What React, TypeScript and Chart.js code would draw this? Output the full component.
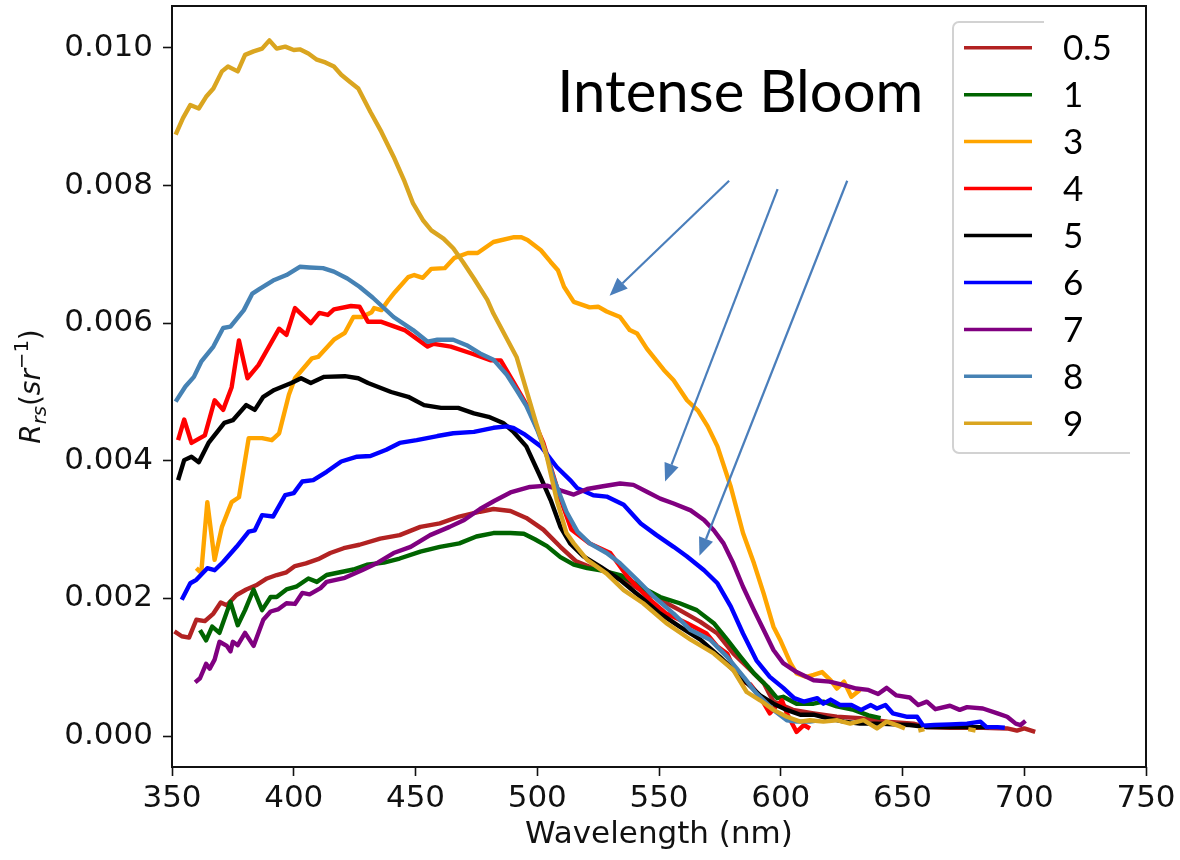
import React, { useEffect, useRef } from "react";
import { Chart, registerables } from "chart.js";

Chart.register(...registerables);

// Remote-sensing reflectance spectra, one pair of arrays per station.
const WL_05 = [351, 354, 357, 360, 363.5, 367, 370, 372.5, 376.5, 380.5, 385, 389, 393, 397, 400.5, 405, 410, 415, 420.5, 427, 435.5, 443.5, 452, 460, 468, 476.5, 482, 489, 495.5, 502.5, 509.5, 516, 521.5, 528.5, 535.5, 542.5, 550.5, 558.5, 567, 574, 580.5, 587.5, 593, 597, 605, 613.5, 623, 632.5, 643.5, 654.5, 660, 669.5, 683, 693, 697, 700, 704.5];
const RRS_05 = [0.00152, 0.00145, 0.00143, 0.00169, 0.00167, 0.00178, 0.00194, 0.0019, 0.00205, 0.00213, 0.0022, 0.00229, 0.00234, 0.00238, 0.00247, 0.00251, 0.00257, 0.00266, 0.00273, 0.00278, 0.00287, 0.00292, 0.00304, 0.00309, 0.00319, 0.00326, 0.0033, 0.00327, 0.00317, 0.003, 0.00275, 0.00254, 0.00246, 0.00239, 0.00227, 0.00212, 0.00198, 0.00183, 0.00166, 0.00149, 0.0012, 0.00096, 0.00077, 0.0005, 0.00038, 0.00033, 0.00028, 0.00026, 0.00021, 0.00018, 0.00013, 0.00012, 0.00012, 0.00011, 0.00008, 0.00011, 0.00006];

const WL_1 = [361.5, 364, 366.5, 369.5, 374, 377, 380, 383.5, 387, 390.5, 393, 397, 401, 406, 409.5, 413.5, 419, 424.5, 430, 437, 443.5, 452, 460, 468, 475, 482, 489, 494.5, 499, 504, 509.5, 515, 520.5, 526, 534, 542.5, 550.5, 558.5, 565.5, 572.5, 578, 583.5, 589, 594.5, 598.5, 601, 606.5, 613.5, 617.5, 623, 630, 636, 641];
const RRS_1 = [0.00154, 0.00139, 0.00159, 0.0015, 0.00195, 0.00161, 0.00183, 0.00213, 0.00183, 0.00202, 0.00202, 0.00213, 0.00217, 0.00229, 0.00224, 0.00234, 0.00238, 0.00242, 0.00249, 0.00252, 0.00258, 0.00268, 0.00275, 0.0028, 0.0029, 0.00295, 0.00295, 0.00294, 0.00286, 0.00276, 0.0026, 0.00249, 0.00244, 0.00241, 0.00234, 0.00217, 0.00202, 0.00193, 0.00183, 0.00164, 0.0014, 0.00115, 0.00091, 0.00072, 0.00055, 0.00057, 0.00047, 0.00047, 0.0005, 0.00043, 0.00038, 0.0003, 0.00026];

const WL_3 = [360, 362, 364.5, 367.5, 370.5, 374.5, 377.5, 381.5, 387, 391, 394, 398, 400.5, 407.5, 410, 416.5, 421, 424.5, 428, 432, 433, 436, 439, 441.5, 447, 449.5, 453, 456.5, 462, 466, 471.5, 475.5, 482, 490.5, 493.5, 496, 501.5, 505.5, 508.5, 511, 515, 521.5, 525, 528.5, 534, 538, 541, 545, 552, 556, 561.5, 566, 570, 574, 579.5, 584.5, 589, 593, 597, 600, 604, 606.5, 610.5, 613.5, 617, 620.5, 623, 626, 629, 632.5];
const RRS_3 = [0.00244, 0.00237, 0.0034, 0.00256, 0.00304, 0.0034, 0.00347, 0.00433, 0.00433, 0.0043, 0.0044, 0.00496, 0.0052, 0.00549, 0.00551, 0.00576, 0.00586, 0.00609, 0.00609, 0.00616, 0.00622, 0.00619, 0.00634, 0.00645, 0.00667, 0.0067, 0.00666, 0.00679, 0.0068, 0.00695, 0.00702, 0.00702, 0.00718, 0.00725, 0.00725, 0.00721, 0.00706, 0.00689, 0.00677, 0.00653, 0.00631, 0.00623, 0.00624, 0.00617, 0.00609, 0.0059, 0.00585, 0.00563, 0.00532, 0.00517, 0.00488, 0.00473, 0.0045, 0.00421, 0.00362, 0.00295, 0.00251, 0.00207, 0.00159, 0.00138, 0.00106, 0.00091, 0.00086, 0.00089, 0.00093, 0.00081, 0.00069, 0.00079, 0.00057, 0.00067];

const WL_4 = [352.5, 355, 358, 363.5, 367.5, 371, 374.5, 377.5, 381, 385.5, 394, 397, 400.5, 407, 410.5, 414, 416.5, 423.5, 427, 430.5, 436, 445.5, 455, 457.5, 464.5, 473, 481, 485, 490.5, 496, 502.5, 509.5, 514, 521.5, 530, 537, 545, 553, 561.5, 569.5, 574, 578, 581, 583.5, 587.5, 591.5, 595.5, 598, 600.5, 602.5, 606.5, 609.5, 612];
const RRS_4 = [0.0043, 0.0046, 0.00426, 0.00437, 0.00488, 0.00474, 0.00507, 0.00575, 0.0052, 0.00539, 0.00592, 0.00583, 0.00622, 0.006, 0.00615, 0.00612, 0.0062, 0.00625, 0.00624, 0.00602, 0.00602, 0.0059, 0.00566, 0.0057, 0.00566, 0.00556, 0.00546, 0.00546, 0.00513, 0.00479, 0.00426, 0.00345, 0.003, 0.0028, 0.00266, 0.00232, 0.00202, 0.00178, 0.00164, 0.00149, 0.0013, 0.0012, 0.00096, 0.0008, 0.00075, 0.00057, 0.00033, 0.00043, 0.00052, 0.00033, 0.00006, 0.00016, 0.00011];

const WL_5 = [352.5, 355, 358, 361, 365, 371.5, 375, 380.5, 384, 387.5, 392, 399, 403, 407, 412.5, 421, 426.5, 430.5, 440, 447, 453.5, 460.5, 467.5, 474, 480, 486, 490, 495.5, 501.5, 505.5, 509.5, 513.5, 519, 526, 534, 542.5, 550.5, 558.5, 567, 575, 583.5, 591.5, 597, 602.5, 608, 613.5, 619, 626, 632.5, 639.5, 646.5, 653, 660, 670, 685.5];
const RRS_5 = [0.00372, 0.00401, 0.00406, 0.00398, 0.00426, 0.00455, 0.00459, 0.00481, 0.00474, 0.00493, 0.00503, 0.00513, 0.0052, 0.00513, 0.00522, 0.00523, 0.0052, 0.00513, 0.005, 0.00493, 0.00481, 0.00477, 0.00477, 0.00469, 0.00464, 0.00455, 0.00443, 0.00421, 0.00375, 0.00343, 0.00304, 0.0028, 0.00261, 0.00246, 0.00227, 0.00202, 0.00178, 0.00159, 0.0014, 0.00115, 0.00086, 0.00059, 0.00047, 0.00038, 0.00031, 0.00031, 0.00026, 0.00021, 0.00018, 0.00018, 0.00017, 0.00016, 0.00013, 0.00013, 0.00013];

const WL_6 = [354, 357.5, 360, 364.5, 367.5, 371, 376.5, 381.5, 384, 387, 391.5, 396.5, 400, 403.5, 408, 413.5, 419.5, 426, 431.5, 438, 443.5, 450.5, 459, 465.5, 474, 482, 487.5, 490, 495, 501.5, 508, 513.5, 516.5, 523, 528.5, 535.5, 542.5, 549, 556, 561.5, 568.5, 574, 579.5, 584.5, 590, 595.5, 601, 605.5, 609.5, 615, 617.5, 620.5, 624.5, 629, 633, 637, 639.5, 643, 646, 652, 656, 658.5, 663, 669.5, 676.5, 682, 684.5, 689, 692];
const RRS_6 = [0.00198, 0.00222, 0.00227, 0.00244, 0.00241, 0.00253, 0.00275, 0.00297, 0.00299, 0.00321, 0.00319, 0.0035, 0.00353, 0.0037, 0.00372, 0.00384, 0.00399, 0.00406, 0.00407, 0.00416, 0.00426, 0.0043, 0.00436, 0.0044, 0.00442, 0.00448, 0.0045, 0.00448, 0.00438, 0.00421, 0.00391, 0.00372, 0.0036, 0.0035, 0.00348, 0.00336, 0.00309, 0.00292, 0.00275, 0.00261, 0.00241, 0.00222, 0.00188, 0.00149, 0.0011, 0.00086, 0.0007, 0.00055, 0.0005, 0.00055, 0.00047, 0.00053, 0.00045, 0.00045, 0.00038, 0.00045, 0.0004, 0.00045, 0.00033, 0.00028, 0.00028, 0.00015, 0.00016, 0.00017, 0.00018, 0.00021, 0.00013, 0.00013, 0.00012];

const WL_7 = [359.5, 361.5, 364, 365.5, 367.5, 369.5, 372.5, 374, 375, 377, 380, 383.5, 387.5, 390.5, 393.5, 397, 400.5, 403.5, 406.5, 411, 413.5, 421, 428, 434.5, 441, 448, 456, 464, 470, 476.5, 482.5, 489, 497, 504, 509.5, 515, 520.5, 527, 534, 539.5, 545, 550.5, 556, 563, 568.5, 572.5, 576.5, 580.5, 584.5, 589, 593, 597, 601, 606.5, 613.5, 620, 626, 631, 636, 640, 643.5, 647.5, 653, 656.5, 660, 663.5, 669.5, 673.5, 676.5, 683, 689, 693, 696.5, 698.5, 700.5];
const RRS_7 = [0.00078, 0.00084, 0.00105, 0.00098, 0.00111, 0.00137, 0.00131, 0.00123, 0.00137, 0.00132, 0.0015, 0.00131, 0.00169, 0.00181, 0.00184, 0.00193, 0.00192, 0.00208, 0.00206, 0.00215, 0.00224, 0.0023, 0.00241, 0.00252, 0.00266, 0.00275, 0.00292, 0.00304, 0.00314, 0.0033, 0.00342, 0.00354, 0.00362, 0.00364, 0.00357, 0.00351, 0.00359, 0.00363, 0.00367, 0.00365, 0.00355, 0.00345, 0.00338, 0.00328, 0.00314, 0.00299, 0.0028, 0.00251, 0.00217, 0.00183, 0.00154, 0.00125, 0.00106, 0.00093, 0.00081, 0.00079, 0.00074, 0.00069, 0.00067, 0.00061, 0.0007, 0.00059, 0.00056, 0.00045, 0.0005, 0.00039, 0.00044, 0.00038, 0.00042, 0.0004, 0.00033, 0.00028, 0.00018, 0.00016, 0.00022];

const WL_8 = [351.5, 355.5, 359, 362, 367, 371, 374, 379.5, 383, 386, 391.5, 397, 402.5, 406.5, 412, 416.5, 422, 427, 432.5, 441, 449, 455, 459, 465.5, 471, 476.5, 482, 487.5, 491.5, 495.5, 500, 503.5, 507, 512, 516.5, 521.5, 528.5, 534, 541, 548, 556, 563, 571, 578, 585, 590, 597, 602.5, 606.5, 612, 614];
const RRS_8 = [0.00486, 0.00508, 0.00522, 0.00544, 0.00566, 0.00593, 0.00595, 0.00619, 0.00643, 0.0065, 0.00662, 0.0067, 0.00682, 0.00681, 0.0068, 0.00675, 0.00665, 0.00653, 0.00637, 0.00609, 0.0059, 0.00573, 0.00576, 0.00576, 0.00568, 0.00556, 0.00547, 0.00525, 0.00503, 0.0048, 0.00445, 0.00412, 0.00372, 0.00326, 0.00297, 0.0028, 0.00266, 0.00251, 0.00227, 0.00202, 0.00178, 0.00154, 0.0014, 0.00115, 0.00085, 0.00062, 0.00038, 0.00023, 0.00021, 0.00021, 0.00022];

// Station 9 has missing bands at the red end (null = no measurement).
const WL_9 = [351.5, 354.5, 357.5, 361, 364, 367, 370.5, 373, 377, 380, 383.5, 387, 390, 393, 396.5, 400, 402.5, 406, 409.5, 413, 416.5, 419.5, 423, 426.5, 431.5, 436, 441, 445.5, 449, 453, 456.5, 461.5, 465.5, 469.5, 474, 479.5, 482, 491.5, 495.5, 499.5, 504, 508, 512, 515, 520.5, 528.5, 535.5, 543.5, 553, 563, 572.5, 580.5, 586, 591.5, 597, 602.5, 608, 612, 617.5, 623, 628.5, 634, 639.5, 643.5, 649, 651, 653.5, 656.5, 659, 668, 677, 680];
const RRS_9 = [0.00874, 0.00898, 0.00917, 0.00912, 0.00929, 0.00941, 0.00966, 0.00973, 0.00966, 0.0099, 0.00995, 0.00999, 0.01011, 0.00999, 0.01002, 0.00997, 0.00998, 0.00992, 0.00983, 0.00979, 0.00973, 0.00961, 0.00951, 0.00941, 0.00907, 0.00878, 0.00842, 0.00806, 0.00774, 0.0075, 0.00735, 0.00723, 0.00709, 0.00689, 0.00665, 0.00634, 0.00614, 0.00551, 0.00503, 0.00455, 0.00405, 0.00343, 0.00295, 0.0028, 0.00256, 0.00236, 0.00212, 0.00193, 0.00164, 0.0014, 0.0012, 0.00096, 0.00064, 0.00052, 0.00038, 0.00028, 0.00021, 0.00023, 0.00021, 0.00023, 0.00018, 0.00023, 0.00011, 0.00021, 0.00014, 0.00011, null, 0.00008, 0.0001, null, 0.0001, 0.00008];

const SERIES_LABELS = ["0.5", "1", "3", "4", "5", "6", "7", "8", "9"];
const SERIES_COLORS = ["#b22222", "#006400", "#ffa500", "#ff0000", "#000000", "#0000ff", "#800080", "#4682b4", "#daa520"];
const SERIES_WL = [WL_05, WL_1, WL_3, WL_4, WL_5, WL_6, WL_7, WL_8, WL_9];
const SERIES_RRS = [RRS_05, RRS_1, RRS_3, RRS_4, RRS_5, RRS_6, RRS_7, RRS_8, RRS_9];

const X_TICKS = [350, 400, 450, 500, 550, 600, 650, 700, 750];
const Y_TICKS = [0, 0.002, 0.004, 0.006, 0.008, 0.01];

// Callout text and arrows, in data coordinates (nm, sr^-1).
const BLOOM_TEXT = "Intense Bloom";
const BLOOM_TEXT_POS = { x: 508.2, y: 0.00907 };
const BLOOM_ARROWS = [
  { from: { x: 578.8, y: 0.00807 }, to: { x: 529.7, y: 0.0064 } },
  { from: { x: 598.7, y: 0.00795 }, to: { x: 552.5, y: 0.0037 } },
  { from: { x: 627.3, y: 0.00807 }, to: { x: 566.6, y: 0.00262 } },
];

const AXIS_FONT = "DejaVu Sans";
const NOTE_FONT = "Lato";

const framePlugin = {
  id: "frame",
  afterDatasetsDraw(chart: any) {
    const { ctx, chartArea: a } = chart;
    ctx.save();
    ctx.strokeStyle = "#111";
    ctx.lineWidth = 2;
    ctx.strokeRect(a.left, a.top, a.right - a.left, a.bottom - a.top);
    ctx.restore();
  },
};

const yTitlePlugin = {
  id: "rrsTitle",
  afterDraw(chart: any) {
    const { ctx, chartArea: a } = chart;
    const size = 28;
    const parts = [
      { t: "R", it: true, s: 1, dy: 0 },
      { t: "rs", it: true, s: 0.7, dy: 0.22 },
      { t: "(", it: false, s: 1, dy: 0 },
      { t: "sr", it: true, s: 1, dy: 0 },
      { t: "\u22121", it: false, s: 0.7, dy: -0.42 },
      { t: ")", it: false, s: 1, dy: 0 },
    ];
    const fontOf = (p: any) => `${p.it ? "italic " : ""}${size * p.s}px "${AXIS_FONT}"`;
    ctx.save();
    let total = 0;
    const widths = parts.map((p) => {
      ctx.font = fontOf(p);
      const w = ctx.measureText(p.t).width;
      total += w;
      return w;
    });
    ctx.translate(40, (a.top + a.bottom) / 2);
    ctx.rotate(-Math.PI / 2);
    ctx.fillStyle = "#111";
    ctx.textBaseline = "alphabetic";
    ctx.textAlign = "left";
    let x = -total / 2;
    parts.forEach((p, i) => {
      ctx.font = fontOf(p);
      ctx.fillText(p.t, x, p.dy * size);
      x += widths[i];
    });
    ctx.restore();
  },
};

const legendPlugin = {
  id: "stationLegend",
  afterDraw(chart: any) {
    const { ctx, chartArea: a } = chart;
    const left = a.right - 193;
    const top = a.top + 16;
    const right = left + 177;
    const bottom = top + 431;
    const cut = left + 91;
    const r = 6;
    ctx.save();
    ctx.fillStyle = "#fff";
    ctx.fillRect(left, top, right - left, bottom - top);
    ctx.strokeStyle = "#d2d2d2";
    ctx.lineWidth = 2;
    ctx.beginPath();
    ctx.moveTo(cut, top);
    ctx.lineTo(left + r, top);
    ctx.arcTo(left, top, left, top + r, r);
    ctx.lineTo(left, bottom - r);
    ctx.arcTo(left, bottom, left + r, bottom, r);
    ctx.lineTo(right, bottom);
    ctx.stroke();

    ctx.font = `35px "${NOTE_FONT}"`;
    ctx.textAlign = "left";
    ctx.textBaseline = "middle";
    chart.data.datasets.forEach((ds: any, i: number) => {
      const y = top + 25.7 + i * 46.95;
      ctx.strokeStyle = ds.borderColor;
      ctx.lineWidth = 3.5;
      ctx.beginPath();
      ctx.moveTo(left + 11, y);
      ctx.lineTo(left + 79, y);
      ctx.stroke();
      ctx.fillStyle = "#000";
      ctx.fillText(ds.label, left + 110, y + 1);
    });
    ctx.restore();
  },
};

const calloutPlugin = {
  id: "bloomCallout",
  afterDraw(chart: any) {
    const { ctx } = chart;
    const sx = chart.scales.x;
    const sy = chart.scales.y;
    ctx.save();
    ctx.fillStyle = "#000";
    ctx.font = `58px "${NOTE_FONT}"`;
    ctx.textAlign = "left";
    ctx.textBaseline = "alphabetic";
    ctx.fillText(BLOOM_TEXT, sx.getPixelForValue(BLOOM_TEXT_POS.x), sy.getPixelForValue(BLOOM_TEXT_POS.y));

    const color = "#4a7ebb";
    ctx.strokeStyle = color;
    ctx.fillStyle = color;
    ctx.lineWidth = 2.2;
    BLOOM_ARROWS.forEach((ar) => {
      const x0 = sx.getPixelForValue(ar.from.x);
      const y0 = sy.getPixelForValue(ar.from.y);
      const x1 = sx.getPixelForValue(ar.to.x);
      const y1 = sy.getPixelForValue(ar.to.y);
      const ang = Math.atan2(y1 - y0, x1 - x0);
      const headLen = 18;
      const headHalf = 7.5;
      const bx = x1 - headLen * Math.cos(ang);
      const by = y1 - headLen * Math.sin(ang);
      ctx.beginPath();
      ctx.moveTo(x0, y0);
      ctx.lineTo(bx, by);
      ctx.stroke();
      ctx.beginPath();
      ctx.moveTo(x1, y1);
      ctx.lineTo(bx + headHalf * Math.sin(ang), by - headHalf * Math.cos(ang));
      ctx.lineTo(bx - headHalf * Math.sin(ang), by + headHalf * Math.cos(ang));
      ctx.closePath();
      ctx.fill();
    });
    ctx.restore();
  },
};

export default function App() {
  const canvasRef = useRef<HTMLCanvasElement | null>(null);

  useEffect(() => {
    if (!canvasRef.current) return;
    const n = SERIES_LABELS.length;
    const datasets = SERIES_LABELS.map((label, i) => ({
      label,
      data: SERIES_WL[i].map((w, j) => ({ x: w, y: SERIES_RRS[i][j] })),
      borderColor: SERIES_COLORS[i],
      backgroundColor: SERIES_COLORS[i],
      borderWidth: 4.4,
      pointRadius: 0,
      tension: 0,
      spanGaps: false,
      fill: false,
      borderJoinStyle: "round" as const,
      borderCapStyle: "butt" as const,
      order: n - 1 - i,
    }));

    const chart = new Chart(canvasRef.current, {
      type: "line",
      data: { datasets },
      plugins: [framePlugin, yTitlePlugin, legendPlugin, calloutPlugin],
      options: {
        animation: false,
        responsive: true,
        maintainAspectRatio: false,
        layout: { padding: { left: 0, right: 34, top: 6, bottom: 0 } },
        plugins: { legend: { display: false }, tooltip: { enabled: false } },
        scales: {
          x: {
            type: "linear",
            min: 350,
            max: 750,
            afterBuildTicks: (s: any) => {
              s.ticks = X_TICKS.map((v) => ({ value: v }));
            },
            afterFit: (s: any) => {
              s.height = 93;
              s.paddingLeft = 0;
              s.paddingRight = 0;
            },
            border: { display: false },
            grid: { display: true, drawOnChartArea: false, drawTicks: true, tickLength: 9, tickWidth: 1.6, tickColor: "#111" },
            ticks: {
              autoSkip: false,
              maxRotation: 0,
              padding: 4,
              color: "#111",
              font: { family: AXIS_FONT, size: 31 },
              callback: (v: any) => String(v),
            },
            title: {
              display: true,
              text: "Wavelength (nm)",
              color: "#111",
              font: { family: AXIS_FONT, size: 31 },
              padding: { top: 0, bottom: 6 },
            },
          },
          y: {
            type: "linear",
            min: -0.00045,
            max: 0.01061,
            afterBuildTicks: (s: any) => {
              s.ticks = Y_TICKS.map((v) => ({ value: v }));
            },
            afterFit: (s: any) => {
              s.width = 172;
              s.paddingTop = 0;
              s.paddingBottom = 0;
            },
            border: { display: false },
            grid: { display: true, drawOnChartArea: false, drawTicks: true, tickLength: 9, tickWidth: 1.6, tickColor: "#111" },
            ticks: {
              autoSkip: false,
              padding: 10,
              color: "#111",
              font: { family: AXIS_FONT, size: 31 },
              callback: (v: any) => Number(v).toFixed(3),
            },
          },
        },
      },
    });
    return () => chart.destroy();
  }, []);

  return (
    <div style={{ position: "absolute", left: 0, top: 0, width: 1180, height: 860, background: "#fff" }}>
      <canvas ref={canvasRef} style={{ display: "block" }} />
    </div>
  );
}
